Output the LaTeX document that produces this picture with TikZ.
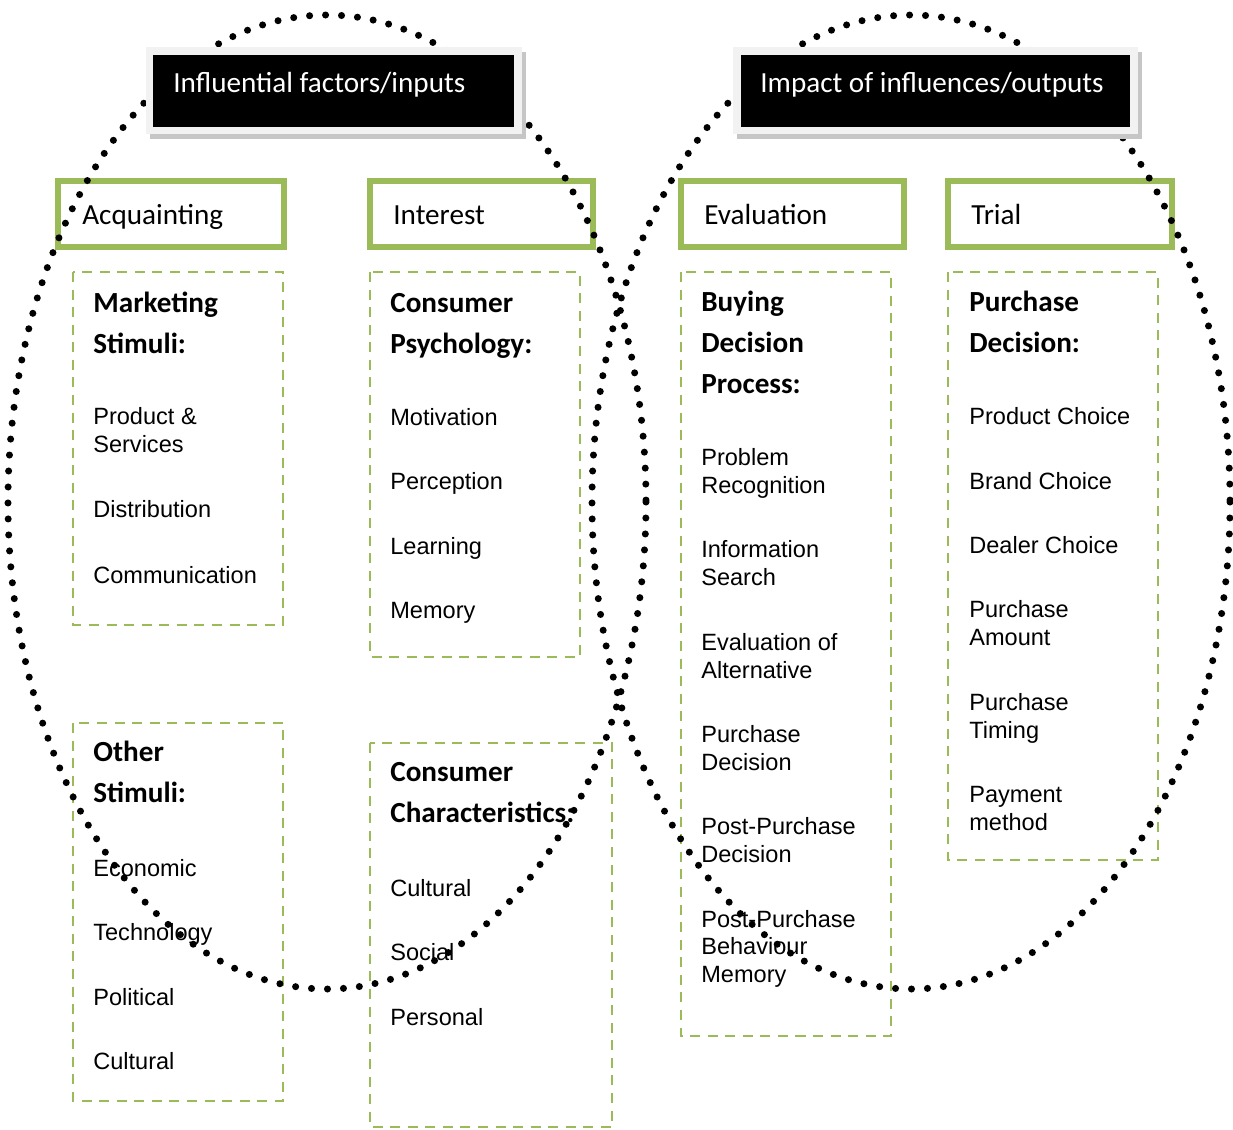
\documentclass[tikz,border=0pt]{standalone}
\usepackage{fontspec}
\setmainfont{Liberation Sans}
\newfontfamily\calibri{Carlito}
\usepackage{tikz}
\definecolor{stagegreen}{HTML}{9BBB59}
\definecolor{framegray}{HTML}{F2F2F2}
\tikzset{
	greenbox/.style={draw=stagegreen, line width=3.4pt},
	dashbox/.style={draw=stagegreen, line width=1.6pt, dash pattern=on 5.7pt off 4.3pt},
	stagetext/.style={anchor=base west, inner sep=0pt, font=\calibri\fontsize{16.6}{20}\selectfont},
	headtext/.style={stagetext, text=white},
	titletext/.style={anchor=base west, inner sep=0pt, align=left, font=\calibri\bfseries\fontsize{16.6}{23.3}\selectfont},
	itemtext/.style={anchor=base west, inner sep=0pt, align=left, font=\fontsize{13.4}{15.4}\selectfont},
	dotring/.style={line width=4pt, line cap=round, dash pattern=on 0pt off 9.1pt},
}

\begin{document}
\begin{tikzpicture}[x=0.02cm, y=-0.02cm]
		%%%%% START %%%%%
		\useasboundingbox (0, 0) rectangle (1233, 1129);
		
		% stage boxes
		\draw[greenbox] (58, 181) rectangle (284, 247);
		\draw[greenbox] (370, 181) rectangle (593, 247);
		\draw[greenbox] (681, 181) rectangle (904, 247);
		\draw[greenbox] (948, 181) rectangle (1172, 247);
		\node[stagetext] (acq) at (82, 224) {Acquainting};
		\node[stagetext] (int) at (393, 224) {Interest};
		\node[stagetext] (eva) at (704, 224) {Evaluation};
		\node[stagetext] (tri) at (971, 224) {Trial};
		
		% dashed boxes
		\draw[dashbox] (73, 272) rectangle (283, 625);
		\draw[dashbox] (370, 272) rectangle (580, 657);
		\draw[dashbox] (681, 272) rectangle (891, 1036);
		\draw[dashbox] (948, 272) rectangle (1158, 860);
		\draw[dashbox] (73, 723) rectangle (283, 1101);
		\draw[dashbox] (370, 743) rectangle (612, 1127);
		
		% marketing stimuli (base = last line)
		\node[titletext] (mktTitle) at (93, 353) {Marketing\\Stimuli:};
		\node[itemtext] (mktProd) at (93, 452) {Product \&\\Services};
		\node[itemtext] (mktDist) at (93, 517) {Distribution};
		\node[itemtext] (mktComm) at (93, 583) {Communication};
		
		% consumer psychology
		\node[titletext] (psyTitle) at (390, 353) {Consumer\\Psychology:};
		\node[itemtext] (psyMot) at (390, 425) {Motivation};
		\node[itemtext] (psyPer) at (390, 489) {Perception};
		\node[itemtext] (psyLea) at (390, 554) {Learning};
		\node[itemtext] (psyMem) at (390, 618) {Memory};
		
		% buying decision process
		\node[titletext] (buyTitle) at (701, 393) {Buying\\Decision\\Process:};
		\node[itemtext] (buyProb) at (701, 493) {Problem\\Recognition};
		\node[itemtext] (buyInfo) at (701, 585) {Information\\Search};
		\node[itemtext] (buyEval) at (701, 678) {Evaluation of\\Alternative};
		\node[itemtext] (buyPurc) at (701, 770) {Purchase\\Decision};
		\node[itemtext] (buyPost) at (701, 862) {Post-Purchase\\Decision};
		\node[itemtext] (buyBeha) at (701, 982) {Post-Purchase\\Behaviour\\Memory};
		
		% purchase decision
		\node[titletext] (purTitle) at (969, 352) {Purchase\\Decision:};
		\node[itemtext] (purProd) at (969, 424) {Product Choice};
		\node[itemtext] (purBran) at (969, 489) {Brand Choice};
		\node[itemtext] (purDeal) at (969, 553) {Dealer Choice};
		\node[itemtext] (purAmou) at (969, 645) {Purchase\\Amount};
		\node[itemtext] (purTimi) at (969, 738) {Purchase\\Timing};
		\node[itemtext] (purPaym) at (969, 830) {Payment\\method};
		
		% other stimuli
		\node[titletext] (othTitle) at (93, 802) {Other\\Stimuli:};
		\node[itemtext] (othEcon) at (93, 876) {Economic};
		\node[itemtext] (othTech) at (93, 940) {Technology};
		\node[itemtext] (othPoli) at (93, 1005) {Political};
		\node[itemtext] (othCult) at (93, 1069) {Cultural};
		
		% consumer characteristics
		\node[titletext] (chaTitle) at (390, 822) {Consumer\\Characteristics:};
		\node[itemtext] (chaCult) at (390, 896) {Cultural};
		\node[itemtext] (chaSoci) at (390, 960) {Social};
		\node[itemtext] (chaPers) at (390, 1025) {Personal};
		
		% dotted rings
		\draw[dotring] (327, 502) ellipse [x radius=319, y radius=487];
		\draw[dotring] (911, 502) ellipse [x radius=319, y radius=487];
		
		% headers
		\fill[gray!45] (150, 52) rectangle (526, 139);
		\fill[framegray] (146, 47) rectangle (522, 134);
		\fill[black] (153, 55) rectangle (514, 127);
		\node[headtext] (inputs) at (173, 92) {Influential factors/inputs};
		
		\fill[gray!45] (737, 52) rectangle (1142, 139);
		\fill[framegray] (733, 47) rectangle (1138, 134);
		\fill[black] (741, 55) rectangle (1130, 127);
		\node[headtext] (outputs) at (760, 92) {Impact of influences/outputs};
		
		%%%%% END %%%%%
	\end{tikzpicture}
\end{document}
